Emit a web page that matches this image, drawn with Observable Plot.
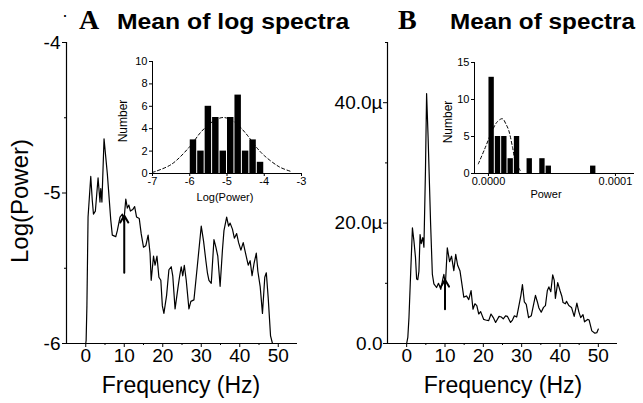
<!DOCTYPE html>
<html>
<head>
<meta charset="utf-8">
<script src="https://cdn.jsdelivr.net/npm/d3@7"></script>
<script src="https://cdn.jsdelivr.net/npm/@observablehq/plot@0.6"></script>
<style>
  html, body { margin: 0; padding: 0; background: white; }
  #wrap { position: relative; width: 643px; height: 403px; overflow: hidden; background: white; font-family: "Liberation Sans", Arial, sans-serif; color: black; }
  #wrap > svg, #wrap > div.p { position: absolute; }
  .t { position: absolute; white-space: nowrap; line-height: 1; }
  .rot { transform: translate(-50%, -50%) rotate(-90deg); }
  .ctr { transform: translateX(-50%); }
</style>
</head>
<body>
<div id="wrap"></div>
<script>
// ---------- Panel A: mean of log spectra ----------
const freqA = [-5, 0, 0.1, 0.3, 0.6, 1.3, 1.7, 2.0, 2.5, 3.2, 3.7, 3.9, 4.2, 4.75, 5.6, 6.5, 6.9, 7.8, 8.2, 8.9, 9.5, 9.9,
  10.4, 10.8, 11.2, 11.6, 12.2, 12.7, 13.2, 13.9, 14.4, 15.0, 15.6, 16.2, 16.7, 17.0, 17.6, 18.0, 18.5, 19.0, 19.5, 19.9,
  20.3, 21.0, 21.6, 22.2, 22.6, 23.2, 24.0, 24.4, 24.8, 25.2, 25.6, 26.1, 26.8, 27.3, 28.1, 29.0, 30.0, 30.6, 31.2, 31.6,
  32.0, 32.6, 33.3, 33.8, 34.3, 34.9, 35.5, 35.9, 36.6, 37.1, 37.5, 38.1, 38.6, 39.2, 39.7, 40.3, 40.9, 41.5, 42.2, 42.7,
  43.2, 43.7, 44.3, 44.7, 45.3, 45.9, 46.5, 46.9, 47.4, 48.0, 48.5, 49.5];
const logPowA = [-6, -6, -5.98, -5.75, -5.16, -4.89, -5.05, -5.14, -5.12, -4.90, -5.06, -4.97, -5.06, -4.64, -4.87, -5.18, -5.28, -5.29, -5.25, -5.16, -5.14, -5.19,
  -5.04, -5.10, -5.08, -5.12, -5.11, -5.09, -5.16, -5.17, -5.27, -5.36, -5.35, -5.28, -5.40, -5.58, -5.42, -5.48, -5.42, -5.56, -5.58, -5.75,
  -5.80, -5.68, -5.51, -5.49, -5.55, -5.77, -5.62, -5.55, -5.49, -5.55, -5.48, -5.58, -5.77, -5.72, -5.71, -5.48, -5.22, -5.32, -5.45, -5.53,
  -5.58, -5.60, -5.31, -5.36, -5.42, -5.62, -5.38, -5.25, -5.16, -5.22, -5.20, -5.24, -5.30, -5.27, -5.33, -5.38, -5.33, -5.40, -5.48, -5.45,
  -5.55, -5.47, -5.40, -5.52, -5.62, -5.80, -5.56, -5.53, -5.70, -5.95, -6.0, -6.0];
const arrowA = { f: 10, from: -5.53, to: -5.15 };
const xTicksMain = [0, 10, 20, 30, 40, 50];
const xMinorMain = [5, 15, 25, 35, 45];
const yTicksA = [-6, -5, -4];
const yTickLabelsA = ["-6", "-5", "-4"];
const yMinorA = [-5.5, -4.5];

// Inset A: histogram of log power
const binLoA = [-6.0, -5.8, -5.6, -5.4, -5.2, -5.0, -4.8, -4.6, -4.4, -4.2];
const countA = [3, 2, 6, 5, 2, 5, 7, 2, 3, 1];
const binWidthA = 0.2;
const fitXA = [-7, -6.5, -6, -5.7, -5.4, -5.1, -4.8, -4.5, -4.2, -4.0, -3.6, -3.3];
const fitYA = [0.1, 0.8, 2.4, 3.7, 4.6, 5.0, 4.6, 3.6, 2.3, 1.6, 0.6, 0.2];
const insetXTicksA = [-7, -6, -5, -4, -3];
const insetXLabelsA = ["-7", "-6", "-5", "-4", "-3"];
const insetYTicksA = [0, 2, 4, 6, 8, 10];

// ---------- Panel B: mean of spectra (values in micro-units) ----------
const freqB = [-1.5, 0, 0.3, 0.6, 1.0, 1.5, 1.9, 2.3, 2.6, 2.9, 3.2, 3.5, 3.8, 4.2, 4.5, 4.9, 5.2, 5.6, 6.25, 6.7, 7.1, 7.8, 8.3, 8.9, 9.4, 9.7, 10.1,
  10.6, 11.2, 11.7, 12.3, 12.8, 13.3, 13.9, 14.5, 14.9, 15.6, 16.2, 16.8, 17.3, 17.8, 18.3, 18.8, 19.3, 20.1, 20.6, 21.4, 22.0, 22.6, 23.2,
  24.1, 24.7, 25.2, 25.8, 26.3, 27.1, 27.6, 28.1, 28.7, 29.2, 29.8, 30.2, 30.7, 31.2, 31.8, 32.5, 33.6, 34.1, 34.5, 35.1, 35.7, 36.2, 36.7,
  37.1, 37.6, 38.1, 38.5, 38.8, 39.4, 40.0, 40.5, 40.8, 41.4, 41.7, 42.3, 43.0, 43.7, 44.4, 44.9, 45.4, 46.0, 46.4, 47.2, 47.6, 48.3, 49.1, 49.6, 50.0];
const powB = [0, 0, 1.0, 4.3, 11, 19.2, 17, 14.3, 10.7, 10.6, 12, 18.1, 16.6, 17.6, 16.0, 28.6, 41.5, 34.1, 19.8, 11.5, 9.9, 9.3, 10.0, 9.0, 10.6, 11.5, 9.8,
  15.9, 13.6, 14.5, 12.1, 14.8, 13.0, 12.1, 9.5, 7.7, 7.9, 7.3, 8.8, 5.7, 6.6, 6.3, 4.9, 5.3, 4.0, 3.9, 3.8, 4.9, 4.3, 3.5,
  4.5, 4.4, 4.1, 4.6, 4.5, 3.5, 3.9, 4.6, 4.4, 6.0, 8.0, 9.8, 6.9, 6.5, 4.3, 4.6, 8.0, 6.9, 5.9, 5.2, 6.0, 6.3, 8.8,
  9.4, 8.6, 11.4, 10.5, 7.5, 10.1, 8.8, 7.8, 6.8, 6.6, 7.0, 6.3, 6.0, 4.5, 6.7, 5.3, 4.3, 4.8, 3.6, 4.0, 3.9, 2.1, 1.7, 1.8, 2.4];
const arrowB = { f: 10, from: 5.7, to: 10.6 };
const yTicksB = [0, 20, 40];
const yTickLabelsB = ["0.0", "20.0\u00b5", "40.0\u00b5"];
const yMinorB = [10, 30, 50];

// Inset B: histogram of power (micro-units)
const binLoB = [0, 5, 10, 15, 20, 30, 40, 45, 80];
const countB = [13, 5, 5, 2, 5, 2, 2, 1, 1];
const binWidthB = 5;
const fitXB = [-8, -3, 3, 7, 11, 14, 16, 19, 21, 25];
const fitYB = [1.3, 3.3, 5.8, 7.0, 7.4, 6.6, 5.8, 3.5, 1.8, 0.4];
const insetXTicksB = [0, 100];
const insetXLabelsB = ["0.0000", "0.0001"];
const insetYTicksB = [0, 5, 10, 15];

// ---------- build ----------
const FONT = "'Liberation Sans', Arial, Helvetica, sans-serif";
const wrap = document.getElementById("wrap");
function place(svg, left, top) {
  svg.style.position = "absolute";
  svg.style.left = left + "px";
  svg.style.top = top + "px";
  wrap.appendChild(svg);
}
function label(text, opts) {
  const d = document.createElement("div");
  d.className = "t " + (opts.cls || "");
  d.textContent = text;
  d.style.left = opts.left + "px";
  d.style.top = opts.top + "px";
  d.style.fontSize = opts.size + "px";
  d.style.fontFamily = opts.font || FONT;
  if (opts.bold) d.style.fontWeight = "bold";
  if (opts.scaleX) { d.style.transform = `scaleX(${opts.scaleX})`; d.style.transformOrigin = "left top"; }
  wrap.appendChild(d);
}
const mainStyle = { fontFamily: FONT, fontSize: "19px", color: "black", background: "transparent", overflow: "visible" };
const insetStyle = { fontFamily: FONT, fontSize: "11px", color: "black", background: "transparent", overflow: "visible" };

const dataA = freqA.map((f, i) => ({ f, v: logPowA[i] }));
const dataB = freqB.map((f, i) => ({ f, v: powB[i] }));
const histA = binLoA.map((lo, i) => ({ lo, hi: lo + binWidthA, n: countA[i] }));
const histB = binLoB.map((lo, i) => ({ lo, hi: lo + binWidthB, n: countB[i] }));
const fitA = fitXA.map((x, i) => ({ x, y: fitYA[i] }));
const fitB = fitXB.map((x, i) => ({ x, y: fitYB[i] }));

const mainA = Plot.plot({
  width: 320, height: 403,
  marginLeft: 66, marginRight: 23, marginTop: 42, marginBottom: 60,
  x: { domain: [-5, 55] },
  y: { domain: [-6, -4] },
  style: mainStyle,
  marks: [
    Plot.ruleX([-5], { strokeWidth: 1.2 }),
    Plot.ruleY([-6], { strokeWidth: 1.2 }),
    Plot.axisX({ ticks: xTicksMain, tickSize: 4, tickPadding: 1, tickFormat: d => String(d), label: null }),
    Plot.axisX({ ticks: xMinorMain, tickSize: 2, tickFormat: () => "", label: null }),
    Plot.axisY({ ticks: yTicksA, tickSize: 4, tickPadding: 2, tickFormat: d => yTickLabelsA[yTicksA.indexOf(d)], label: null }),
    Plot.axisY({ ticks: yMinorA, tickSize: 2, tickFormat: () => "", label: null }),
    Plot.line(dataA, { x: "f", y: "v", stroke: "black", strokeWidth: 1.2 }),
    Plot.arrow([arrowA], { x1: "f", y1: "from", x2: "f", y2: "to", stroke: "black", strokeWidth: 2, headLength: 6 })
  ]
});
place(mainA, 0, 0);

const mainB = Plot.plot({
  width: 323, height: 403,
  marginLeft: 67, marginRight: 26, marginTop: 42, marginBottom: 60,
  x: { domain: [-5, 55] },
  y: { domain: [0, 50] },
  style: mainStyle,
  marks: [
    Plot.ruleX([-5], { strokeWidth: 1.2 }),
    Plot.ruleY([0], { strokeWidth: 1.2 }),
    Plot.axisX({ ticks: xTicksMain, tickSize: 4, tickPadding: 1, tickFormat: d => String(d), label: null }),
    Plot.axisX({ ticks: xMinorMain, tickSize: 2, tickFormat: () => "", label: null }),
    Plot.axisY({ ticks: yTicksB, tickSize: 4, tickPadding: 1, tickFormat: d => yTickLabelsB[yTicksB.indexOf(d)], label: null }),
    Plot.axisY({ ticks: yMinorB, tickSize: 2, tickFormat: () => "", label: null }),
    Plot.line(dataB, { x: "f", y: "v", stroke: "black", strokeWidth: 1.2 }),
    Plot.arrow([arrowB], { x1: "f", y1: "from", x2: "f", y2: "to", stroke: "black", strokeWidth: 2, headLength: 6 })
  ]
});
place(mainB, 320, 0);

const insetA = Plot.plot({
  width: 215, height: 160,
  marginLeft: 52, marginRight: 14, marginTop: 11, marginBottom: 37,
  x: { domain: [-7, -3] },
  y: { domain: [0, 10] },
  style: insetStyle,
  marks: [
    Plot.rectY(histA, { x1: "lo", x2: "hi", y: "n", fill: "black", insetLeft: 0.5, insetRight: 0.5 }),
    Plot.line(fitA, { x: "x", y: "y", stroke: "black", strokeWidth: 1, strokeDasharray: "3,2.5", curve: "catmull-rom" }),
    Plot.ruleX([-7]),
    Plot.ruleY([0]),
    Plot.axisX({ ticks: insetXTicksA, tickSize: 3, tickPadding: 1, tickFormat: d => insetXLabelsA[insetXTicksA.indexOf(d)], label: null }),
    Plot.axisY({ ticks: insetYTicksA, tickSize: 3, tickPadding: 2, tickFormat: d => String(d), label: null })
  ]
});
place(insetA, 100, 50);

const insetB = Plot.plot({
  width: 223, height: 160,
  marginLeft: 54, marginRight: 9, marginTop: 12, marginBottom: 37,
  x: { domain: [-11, 115] },
  y: { domain: [0, 15] },
  style: insetStyle,
  marks: [
    Plot.rectY(histB, { x1: "lo", x2: "hi", y: "n", fill: "black", insetLeft: 0.5, insetRight: 0.5 }),
    Plot.line(fitB, { x: "x", y: "y", stroke: "black", strokeWidth: 1, strokeDasharray: "3,2.5", curve: "catmull-rom" }),
    Plot.ruleX([-11]),
    Plot.ruleY([0]),
    Plot.axisX({ ticks: insetXTicksB, tickSize: 3, tickPadding: 1, tickFormat: d => insetXLabelsB[insetXTicksB.indexOf(d)], label: null }),
    Plot.axisY({ ticks: insetYTicksB, tickSize: 3, tickPadding: 2, tickFormat: d => String(d), label: null })
  ]
});
place(insetB, 420, 50);

// titles
label("\u00b7", { left: 62, top: 6, size: 18 });
label("A", { left: 79, top: 5.5, size: 28, bold: true, font: "'Liberation Serif', 'Times New Roman', serif" });
label("Mean of log spectra", { left: 117, top: 11.8, size: 21.5, bold: true, scaleX: 1.15 });
label("B", { left: 398, top: 5.5, size: 28, bold: true, font: "'Liberation Serif', 'Times New Roman', serif" });
label("Mean of spectra", { left: 450, top: 11.8, size: 21.5, bold: true, scaleX: 1.13 });

// axis titles
label("Log(Power)", { left: 19.7, top: 201, size: 24, cls: "rot" });
label("Frequency (Hz)", { left: 181, top: 373.5, size: 23, cls: "ctr" });
label("Frequency (Hz)", { left: 503, top: 373.5, size: 23, cls: "ctr" });
label("Number", { left: 122.8, top: 121, size: 12, cls: "rot" });
label("Log(Power)", { left: 225, top: 191.7, size: 11, cls: "ctr" });
label("Number", { left: 448, top: 122, size: 12, cls: "rot" });
label("Power", { left: 546, top: 188.7, size: 11, cls: "ctr" });
</script>
</body>
</html>
